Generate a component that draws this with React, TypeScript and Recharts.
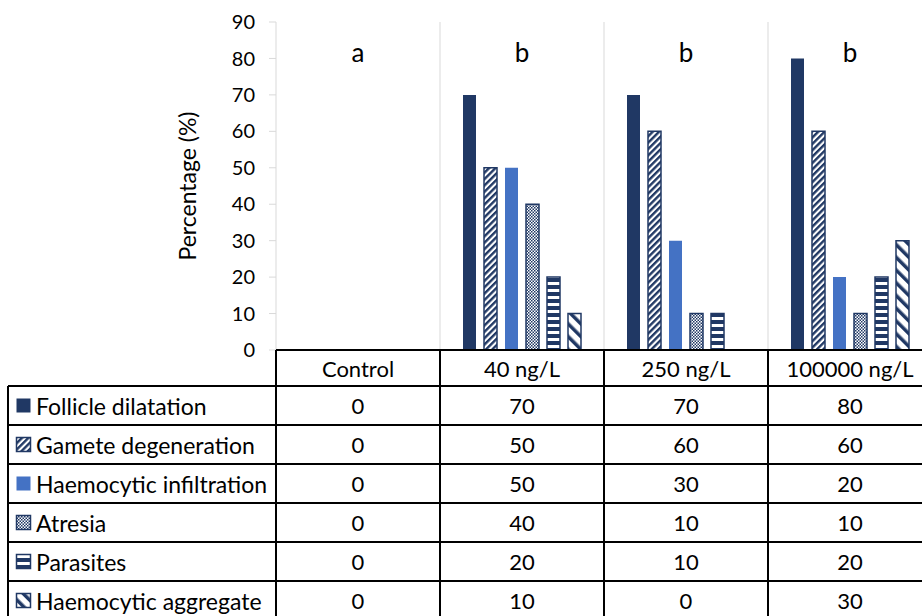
import { BarChart, Bar, XAxis, YAxis, CartesianGrid, ReferenceDot } from 'recharts';

const categories = ['Control', '40 ng/L', '250 ng/L', '100000 ng/L'];
const letters = ['a', 'b', 'b', 'b'];

const follicleDilatation = [0, 70, 70, 80];
const gameteDegeneration = [0, 50, 60, 60];
const haemocyticInfiltration = [0, 50, 30, 20];
const atresia = [0, 40, 10, 10];
const parasites = [0, 20, 10, 20];
const haemocyticAggregate = [0, 10, 0, 30];

const yTicks = [0, 10, 20, 30, 40, 50, 60, 70, 80, 90];

const NAVY = '#203864';
const BLUE = '#4472C4';
const FONT = 'Lato, "Open Sans", sans-serif';

// layout of the plot / table
const PLOT_LEFT = 276;
const PLOT_TOP = 22;
const PLOT_BOTTOM = 350;
const CHART_W = 940;
const CHART_H = 616;
const CAT_W = (CHART_W - 8 - PLOT_LEFT) / categories.length;
const HEADER_H = 36;
const ROW_H = 39;

const series = [
  { key: 'fd', name: 'Follicle dilatation', values: follicleDilatation, fill: NAVY, pattern: false },
  { key: 'gd', name: 'Gamete degeneration', values: gameteDegeneration, fill: 'gd', pattern: true },
  { key: 'hi', name: 'Haemocytic infiltration', values: haemocyticInfiltration, fill: BLUE, pattern: false },
  { key: 'at', name: 'Atresia', values: atresia, fill: 'at', pattern: true },
  { key: 'pa', name: 'Parasites', values: parasites, fill: 'pa', pattern: true },
  { key: 'ha', name: 'Haemocytic aggregate', values: haemocyticAggregate, fill: 'ha', pattern: true },
];

const data = categories.map((c, i) => {
  const row: Record<string, string | number> = { category: c, letter: letters[i] };
  series.forEach((s) => {
    row[s.key] = s.values[i];
  });
  return row;
});

function Patterns({ prefix }: { prefix: string }) {
  return (
    <defs>
      <pattern id={`${prefix}gd`} patternUnits="userSpaceOnUse" width={4.5} height={4.5} patternTransform="rotate(45)">
        <rect width={4.5} height={4.5} fill="#fff" />
        <rect width={2.4} height={4.5} fill={NAVY} />
      </pattern>
      <pattern id={`${prefix}at`} patternUnits="userSpaceOnUse" width={3} height={3}>
        <rect width={3} height={3} fill="#fff" />
        <rect width={1.5} height={1.5} fill={NAVY} />
        <rect x={1.5} y={1.5} width={1.5} height={1.5} fill={NAVY} />
      </pattern>
      <pattern id={`${prefix}pa`} patternUnits="userSpaceOnUse" width={7} height={7}>
        <rect width={7} height={7} fill={NAVY} />
        <rect y={2} width={7} height={3} fill="#fff" />
      </pattern>
      <pattern id={`${prefix}ha`} patternUnits="userSpaceOnUse" width={9} height={9} patternTransform="rotate(-45)">
        <rect width={9} height={9} fill="#fff" />
        <rect width={3.5} height={9} fill={NAVY} />
      </pattern>
    </defs>
  );
}

function fillOf(s: (typeof series)[number], prefix: string) {
  return s.pattern ? `url(#${prefix}${s.fill})` : s.fill;
}

function DataTable() {
  const right = 922;
  const top = PLOT_BOTTOM;
  const bodyTop = top + HEADER_H;
  const bottom = bodyTop + ROW_H * series.length;
  const colX = categories.map((_, i) => PLOT_LEFT + i * CAT_W);
  return (
    <svg width={922} height={616} style={{ position: 'absolute', left: 0, top: 0, pointerEvents: 'none' }}>
      <Patterns prefix="t-" />
      <g stroke="#000" strokeWidth={2}>
        <line x1={PLOT_LEFT} x2={right} y1={top} y2={top} />
        {series.map((_, r) => (
          <line key={r} x1={8} x2={right} y1={bodyTop + r * ROW_H} y2={bodyTop + r * ROW_H} />
        ))}
        <line x1={8} x2={8} y1={bodyTop} y2={bottom} />
        {colX.map((x, i) => (
          <line key={i} x1={x} x2={x} y1={top} y2={bottom} />
        ))}
      </g>
      <g fontFamily={FONT} fontSize={22} fill="#000" textAnchor="middle" dominantBaseline="central">
        {categories.map((c, i) => (
          <text key={c} x={colX[i] + CAT_W / 2} y={top + HEADER_H / 2}>
            {c}
          </text>
        ))}
        {series.map((s, r) =>
          s.values.map((v, i) => (
            <text key={`${s.key}-${i}`} x={colX[i] + CAT_W / 2} y={bodyTop + r * ROW_H + ROW_H / 2}>
              {v}
            </text>
          ))
        )}
      </g>
      {series.map((s, r) => {
        const cy = bodyTop + r * ROW_H + ROW_H / 2;
        return (
          <g key={s.key}>
            <rect
              x={16.5}
              y={cy - 7}
              width={14}
              height={14}
              fill={fillOf(s, 't-')}
              stroke={s.pattern ? NAVY : 'none'}
              strokeWidth={1.5}
            />
            <text x={36} y={cy} fontFamily={FONT} fontSize={23} fill="#000" dominantBaseline="central">
              {s.name}
            </text>
          </g>
        );
      })}
    </svg>
  );
}

export default function App() {
  return (
    <div
      style={{
        position: 'absolute',
        left: 0,
        top: 0,
        width: 922,
        height: 616,
        overflow: 'hidden',
        background: '#fff',
        fontFamily: FONT,
      }}
    >
      <BarChart
        width={CHART_W}
        height={CHART_H}
        data={data}
        margin={{ top: PLOT_TOP, right: 8, bottom: CHART_H - PLOT_BOTTOM, left: PLOT_LEFT - 60 }}
        barSize={13}
        barGap={8}
      >
        <Patterns prefix="c-" />
        <CartesianGrid
          horizontal={false}
          stroke="#d9d9d9"
          verticalCoordinatesGenerator={({ offset }: any) =>
            [1, 2, 3, 4].map((i) => offset.left + (offset.width * i) / categories.length)
          }
        />
        <XAxis dataKey="category" hide />
        <YAxis
          width={60}
          domain={[0, 90]}
          ticks={yTicks}
          interval={0}
          tickSize={7}
          tickMargin={14}
          axisLine={{ stroke: '#d9d9d9' }}
          tickLine={{ stroke: '#d9d9d9' }}
          tick={{ fill: '#000', fontSize: 20, fontFamily: FONT }}
          label={{
            content: ({ viewBox }: any) => {
              const x = viewBox.x - 29;
              const y = viewBox.y + viewBox.height / 2;
              return (
                <text
                  x={x}
                  y={y}
                  transform={`rotate(-90, ${x}, ${y})`}
                  textAnchor="middle"
                  dominantBaseline="central"
                  fontFamily={FONT}
                  fontSize={23}
                  fill="#000"
                >
                  Percentage (%)
                </text>
              );
            },
          }}
        />
        {series.map((s) => (
          <Bar
            key={s.key}
            dataKey={s.key}
            name={s.name}
            fill={fillOf(s, 'c-')}
            stroke={s.pattern ? NAVY : 'none'}
            strokeWidth={1.5}
            isAnimationActive={false}
          />
        ))}
        {categories.map((c, i) => (
          <ReferenceDot
            key={c}
            x={c}
            y={80}
            r={0}
            ifOverflow="visible"
            label={{
              content: ({ viewBox }: any) => (
                <text
                  x={viewBox.x + (viewBox.width || 0) / 2}
                  y={viewBox.y + (viewBox.height || 0) / 2 + 4}
                  textAnchor="middle"
                  fontFamily={FONT}
                  fontSize={26}
                  fill="#000"
                >
                  {letters[i]}
                </text>
              ),
            }}
          />
        ))}
      </BarChart>
      <DataTable />
    </div>
  );
}
